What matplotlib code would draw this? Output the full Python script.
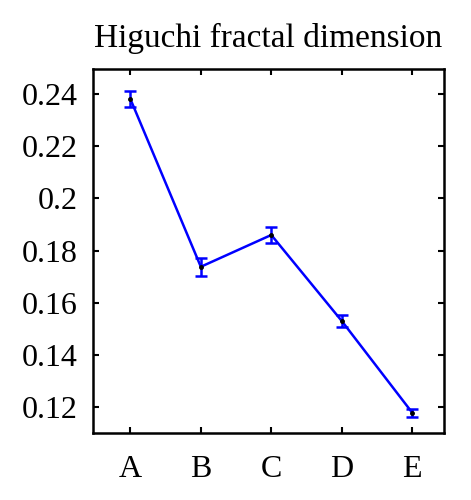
import matplotlib
matplotlib.use('Agg')
import matplotlib.pyplot as plt
import numpy as np

plt.rcParams.update({'font.family': 'Liberation Serif', 'font.size': 23})

groups = ['A', 'B', 'C', 'D', 'E']
hfd = [0.2382, 0.1738, 0.1860, 0.1530, 0.1178]
err = [0.0030, 0.0035, 0.0030, 0.0022, 0.0015]

fig = plt.figure(figsize=(4.71, 5.0), dpi=100)
ax = fig.add_axes([0.1975, 0.134, 0.745, 0.728])

x = np.arange(len(groups))
ax.errorbar(x, hfd, yerr=err, color='#0000ff', lw=1.8, capsize=4,
            capthick=1.8, elinewidth=1.8, marker='.', ms=5,
            mfc='black', mec='black')

ax.set_xlim(-0.53, 4.45)
ax.set_ylim(0.11, 0.2497)
ax.set_xticks(x)
ax.set_xticklabels(groups)
ax.set_yticks([0.12, 0.14, 0.16, 0.18, 0.2, 0.22, 0.24])
ax.set_yticklabels(['0.12', '0.14', '0.16', '0.18', '0.2', '0.22', '0.24'])
ax.tick_params(direction='in', length=4, width=1.5, top=True, right=True)
ax.tick_params(axis='x', pad=16)
ax.tick_params(axis='y', pad=11)
for s in ax.spines.values():
    s.set_linewidth(1.8)

ax.set_title('Higuchi fractal dimension', fontsize=24, pad=16)

fig.savefig('out.png', dpi=100)
